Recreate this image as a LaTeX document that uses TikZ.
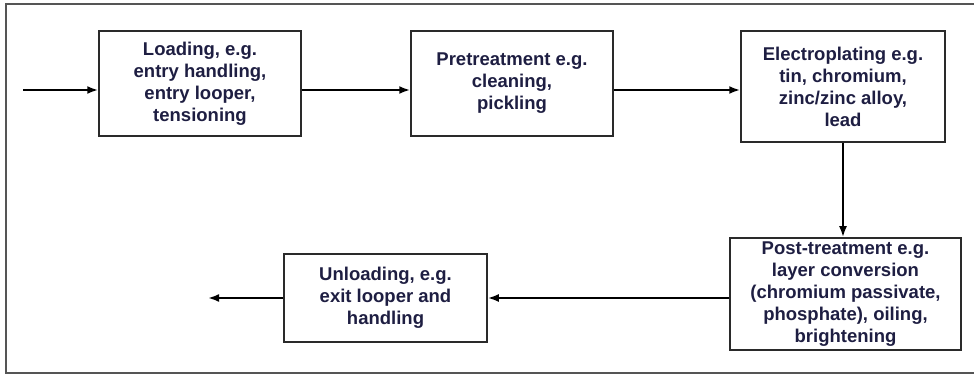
\documentclass[tikz,border=0pt]{standalone}
\usepackage{fontspec}
\setmainfont{Liberation Sans}
\usetikzlibrary{arrows.meta}
\definecolor{txt}{HTML}{1E1E42}
\definecolor{frame}{HTML}{555555}
\definecolor{edge}{HTML}{2A2A2A}
\begin{document}
\begin{tikzpicture}[x=1pt,y=-1pt,
  stage/.style={draw=edge, line width=1.5pt, fill=white, align=center,
    text=txt, inner sep=0pt,
    font=\fontsize{18.5}{22}\selectfont\bfseries},
  flow/.style={line width=2.2pt, draw=black,
    -{Latex[length=11pt,width=8pt]}}]
  \useasboundingbox (0,0) rectangle (974,379);
  \begin{scope}
    \clip (0,0) rectangle (974,379);
    \draw[frame, line width=2pt] (6,4) rectangle (990,373);
  \end{scope}

  % process stages
  \node[stage, minimum width=202pt, minimum height=105pt] (load) at (200,83.5)
    {Loading, e.g.\\entry handling,\\entry looper,\\tensioning};
  \node[stage, minimum width=202pt, minimum height=105pt] (pre) at (512,83.5)
    {Pretreatment e.g.\\cleaning,\\pickling};
  \node[stage, minimum width=204pt, minimum height=111pt] (plate) at (843,86.5)
    {Electroplating e.g.\\tin, chromium,\\zinc/zinc alloy,\\lead};
  \node[stage, minimum width=231pt, minimum height=112pt] (post) at (845.5,294)
    {Post-treatment e.g.\\layer conversion\\(chromium passivate,\\phosphate), oiling,\\brightening};
  \node[stage, minimum width=203pt, minimum height=88pt] (unload) at (385.5,298)
    {Unloading, e.g.\\exit looper and\\handling};

  % free ends of the line
  \coordinate (in) at (23,90);
  \coordinate (out) at (208,298);

  % connectors
  \draw[flow] (in) -- (in -| load.west);
  \draw[flow] (load.east |- in) -- (pre.west |- in);
  \draw[flow] (pre.east |- in) -- (plate.west |- in);
  \draw[flow] (plate.south) -- (plate.south |- post.north);
  \draw[flow] (post.west |- unload.east) -- (unload.east);
  \draw[flow] (unload.west) -- (out);
\end{tikzpicture}
\end{document}
